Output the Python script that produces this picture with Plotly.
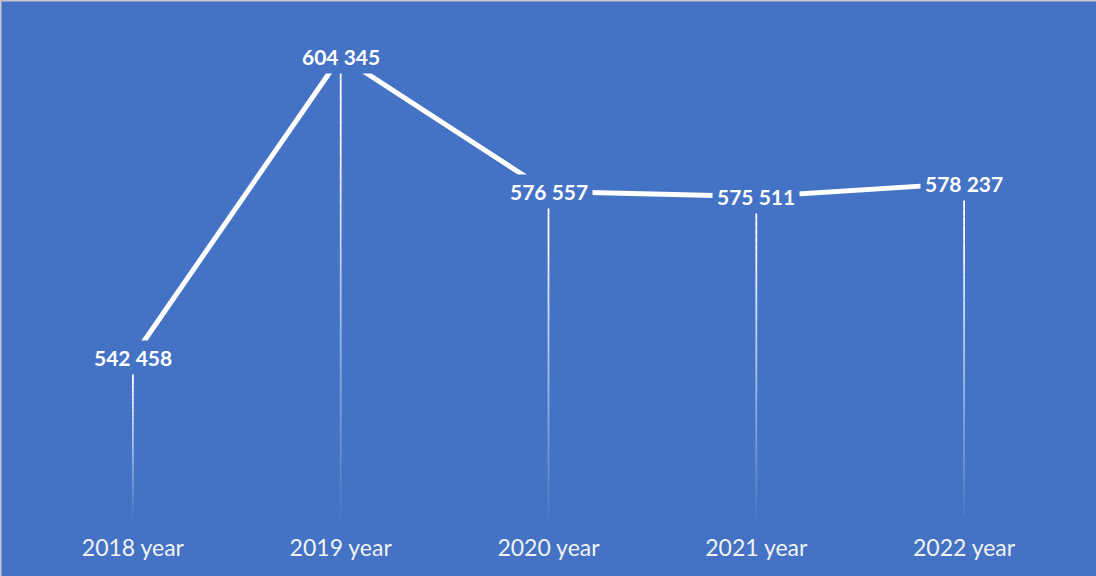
import plotly.graph_objects as go

categories = ["2018 year", "2019 year", "2020 year", "2021 year", "2022 year"]
values = [542458, 604345, 576557, 575511, 578237]
labels = ["542 458", "604 345", "576 557", "575 511", "578 237"]

BG = "#4472C4"
Y_MIN, Y_MAX = 510000, 610000
W, H = 1096, 576
ML, MR, MT, MB = 29, 28, 29, 61

fig = go.Figure()

# gradient drop lines (segments with fading opacity)
N = 40
shapes = []
for c, v in zip(categories, values):
    step = (v - Y_MIN) / N
    for k in range(N):
        y0 = v - k * step
        y1 = v - (k + 1) * step
        a = min(1.0, max(0.0, 1.15 - 1.1 * (k + 0.5) / N))
        shapes.append(dict(type="line", xref="x", yref="y", x0=c, x1=c, y0=y0, y1=y1,
                           line=dict(color=f"rgba(255,255,255,{a:.3f})", width=1.8),
                           layer="below"))

fig.add_trace(go.Scatter(x=categories, y=values, mode="lines",
                         line=dict(color="white", width=5), hoverinfo="skip",
                         showlegend=False))

for c, v, t in zip(categories, values, labels):
    fig.add_annotation(x=c, y=v, xref="x", yref="y", text=f"<b>{t}</b>", showarrow=False,
                       font=dict(family="Lato, Noto Sans, sans-serif", size=21, color="white"),
                       bgcolor=BG, borderpad=4)

pw = W - ML - MR
ph = H - MT - MB
# left and top thin border
shapes.append(dict(type="line", xref="paper", yref="paper", x0=-ML / pw + 0.5 / pw, x1=-ML / pw + 0.5 / pw,
                   y0=-MB / ph, y1=1 + MT / ph, line=dict(color="#c8c8c8", width=2)))
shapes.append(dict(type="line", xref="paper", yref="paper", x0=-ML / pw, x1=1 + MR / pw,
                   y0=1 + MT / ph - 0.5 / ph, y1=1 + MT / ph - 0.5 / ph, line=dict(color="#c8c8c8", width=2)))

fig.update_layout(
    width=W, height=H,
    margin=dict(l=ML, r=MR, t=MT, b=MB),
    paper_bgcolor=BG, plot_bgcolor=BG,
    shapes=shapes,
    xaxis=dict(range=[-0.5, 4.5], showgrid=False, zeroline=False, showline=False, ticks="",
               tickfont=dict(family="Lato, Noto Sans, sans-serif", size=23, color="#f2f2f2"),
               ticklabelstandoff=17),
    yaxis=dict(range=[Y_MIN, Y_MAX], showgrid=False, zeroline=False, showline=False,
               showticklabels=False, ticks=""),
)

fig.write_html("out.html", config={"displayModeBar": False},
               post_script="document.body.style.margin='0';document.body.style.overflow='hidden';")
